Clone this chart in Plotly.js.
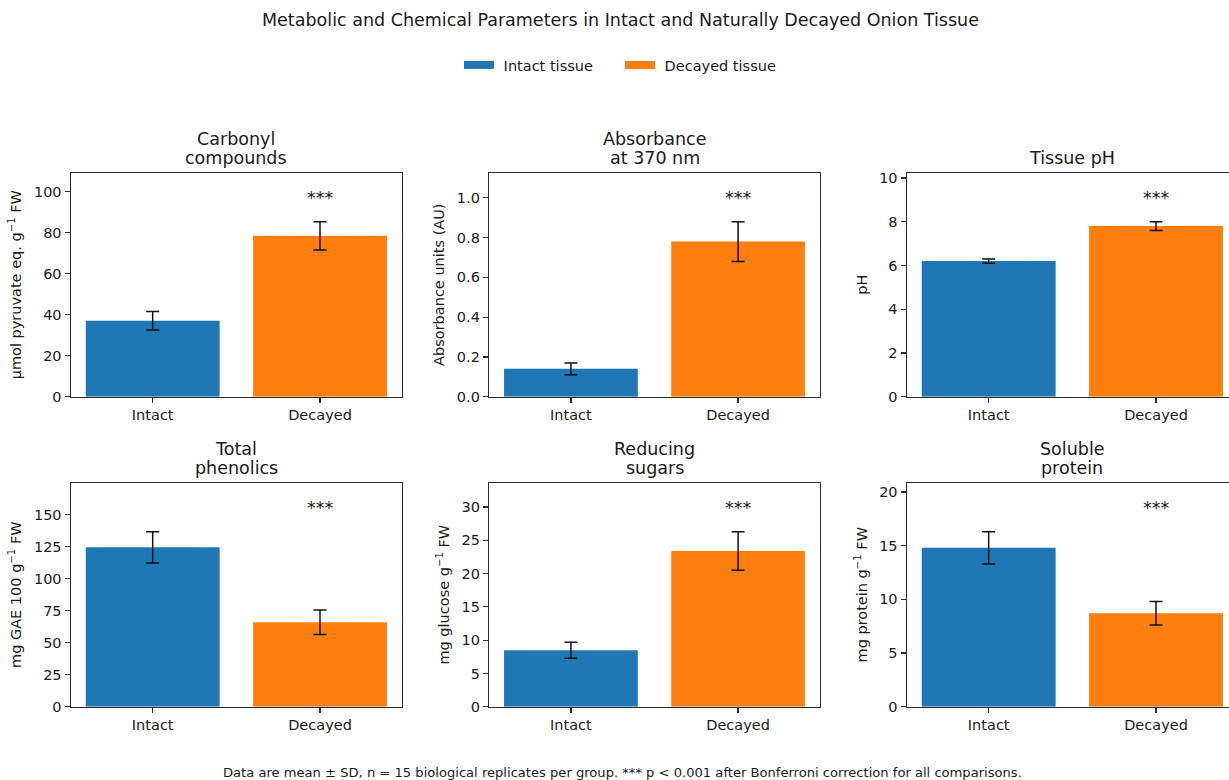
<!DOCTYPE html>
<html>
<head>
<meta charset="utf-8">
<script src="https://cdn.plot.ly/plotly-3.0.1.min.js"></script>
<style>
html, body { margin: 0; padding: 0; background: #fff; overflow: hidden; }
#chart { width: 1240px; height: 780px; }
</style>
</head>
<body>
<div id="chart"></div>
<script>
// ---- Data ----
const panelTitles = ["Carbonyl<br>compounds", "Absorbance<br>at 370 nm", "Tissue pH",
                     "Total<br>phenolics", "Reducing<br>sugars", "Soluble<br>protein"];
const yLabels = ["μmol pyruvate eq. g<sup>−1</sup> FW", "Absorbance units (AU)", "pH",
                 "mg GAE 100 g<sup>−1</sup> FW", "mg glucose g<sup>−1</sup> FW", "mg protein g<sup>−1</sup> FW"];
const groups = ["Intact", "Decayed"];
const legendNames = ["Intact tissue", "Decayed tissue"];
const intactMean  = [37.1, 0.14, 6.2, 124.5, 8.5, 14.8];
const intactSD    = [4.5, 0.03, 0.1, 12.2, 1.2, 1.5];
const decayedMean = [78.5, 0.78, 7.8, 66.0, 23.4, 8.7];
const decayedSD   = [6.9, 0.10, 0.2, 9.6, 2.9, 1.1];
const significance = ["***", "***", "***", "***", "***", "***"];
const tickStep = [20, 0.2, 2, 25, 5, 5];
const tickFormat = ["", ".1f", "", "", "", ""];
const mainTitle = "Metabolic and Chemical Parameters in Intact and Naturally Decayed Onion Tissue";
const footnote = "Data are mean ± SD, n = 15 biological replicates per group. *** p < 0.001 after Bonferroni correction for all comparisons.";

// ---- Styling / layout ----
const colors = ["#1f77b4", "#ff7f0e"];
const W = 1240, H = 780;
const colPx = [[70.7, 402], [489, 820], [906.7, 1238]];
const rowPx = [[172.7, 396.7], [482.7, 706.7]];
const FONT = "DejaVu Sans, sans-serif";
const TXT = "#1a1a1a";
const LINE = "#2b2b2b";

const traces = [];
const layout = {
  width: W, height: H,
  margin: {l: 0, r: 0, t: 0, b: 0},
  paper_bgcolor: "#fff", plot_bgcolor: "#fff",
  font: {family: FONT, color: TXT, size: 14.5},
  barmode: "overlay",
  showlegend: true,
  legend: {orientation: "h", x: 0.5, xanchor: "center", y: 1 - 65 / H, yanchor: "middle",
           font: {size: 14.5, family: FONT, color: TXT}, itemwidth: 30, entrywidth: 116,
           tracegroupgap: 0, bgcolor: "rgba(0,0,0,0)"},
  annotations: [],
};

// Legend proxies (wide patches like the reference)
legendNames.forEach((nm, g) => {
  traces.push({type: "scatter", mode: "lines", x: [null], y: [null], name: "\u00a0" + nm,
               line: {color: colors[g], width: 8}, hoverinfo: "skip", showlegend: true});
});

panelTitles.forEach((title, i) => {
  const r = Math.floor(i / 3), c = i % 3;
  const k = i + 1;
  const xa = "x" + (k === 1 ? "" : k), ya = "y" + (k === 1 ? "" : k);
  const means = [intactMean[i], decayedMean[i]];
  const sds = [intactSD[i], decayedSD[i]];
  const top = Math.max(means[0] + sds[0], means[1] + sds[1]);
  groups.forEach((grp, g) => {
    traces.push({
      type: "bar", x: [grp], y: [means[g]], xaxis: xa, yaxis: ya, width: 0.8,
      name: legendNames[g], showlegend: false,
      marker: {color: colors[g], line: {width: 0}},
      error_y: {type: "data", array: [sds[g]], visible: true, color: "#111", thickness: 1.5, width: 6.5},
    });
  });
  const xd = [colPx[c][0] / W, colPx[c][1] / W];
  const yd = [1 - rowPx[r][1] / H, 1 - rowPx[r][0] / H];
  const axisCommon = {showline: true, mirror: true, linecolor: LINE, linewidth: 1.2,
                      ticks: "outside", ticklen: 5, tickwidth: 1.2, tickcolor: LINE,
                      showgrid: false, zeroline: false, tickfont: {size: 14.5, family: FONT, color: TXT}};
  layout["xaxis" + (k === 1 ? "" : k)] = Object.assign({}, axisCommon, {
    domain: xd, anchor: ya, type: "category", categoryarray: groups, range: [-0.49, 1.49]});
  layout["yaxis" + (k === 1 ? "" : k)] = Object.assign({}, axisCommon, {
    domain: yd, anchor: xa, range: [0, top * 1.28], dtick: tickStep[i], tick0: 0,
    tickformat: tickFormat[i],
    title: {text: yLabels[i], font: {size: 14.5, family: FONT, color: TXT}, standoff: 8}});
  // subplot title, one annotation per line for tighter line spacing
  const lines = title.split("<br>");
  lines.forEach((ln, j) => {
    const fromBottom = lines.length - 1 - j;
    layout.annotations.push({text: ln, xref: "paper", yref: "paper",
      x: (xd[0] + xd[1]) / 2, y: yd[1], xanchor: "center", yanchor: "middle",
      yshift: 14.5 + fromBottom * 19.5,
      showarrow: false, font: {size: 17.5, family: FONT, color: TXT}});
  });
  // significance stars
  layout.annotations.push({text: significance[i], xref: xa, yref: ya, x: groups[1], y: top * 1.15,
    xanchor: "center", yanchor: "middle", yshift: -3, showarrow: false,
    font: {size: 17.5, family: FONT, color: TXT}});
});

layout.annotations.push({text: mainTitle, xref: "paper", yref: "paper", x: 0.5, y: 1 - 20 / H,
  xanchor: "center", yanchor: "middle", showarrow: false, font: {size: 17.5, family: FONT, color: TXT}});
layout.annotations.push({text: footnote, xref: "paper", yref: "paper", x: 622 / W, y: 1 - 772 / H,
  xanchor: "center", yanchor: "middle", showarrow: false, font: {size: 13.1, family: FONT, color: TXT}});

Plotly.newPlot("chart", traces, layout, {displayModeBar: false, staticPlot: true});
</script>
</body>
</html>
